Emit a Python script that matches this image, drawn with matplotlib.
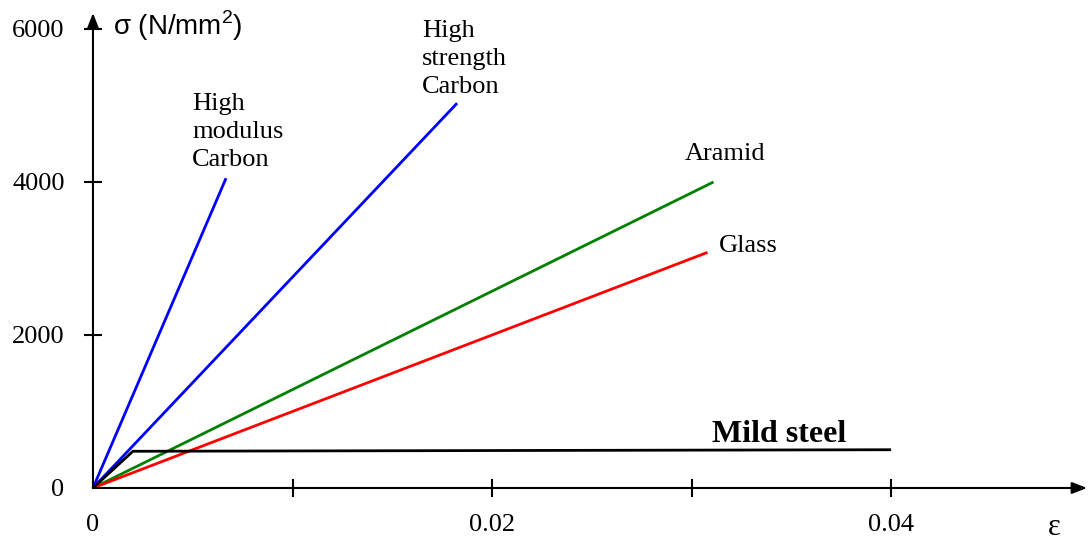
import matplotlib
matplotlib.use("Agg")
import matplotlib.pyplot as plt

plt.rcParams["font.family"] = ["Liberation Serif", "DejaVu Serif"]
plt.rcParams["mathtext.fontset"] = "custom"
plt.rcParams["mathtext.rm"] = "Liberation Sans"

# stress-strain lines: (strain, stress N/mm2)
hm_carbon_eps = [0.0, 0.00667]
hm_carbon_sig = [0, 4050]
hs_carbon_eps = [0.0, 0.01825]
hs_carbon_sig = [0, 5030]
aramid_eps = [0.0, 0.0311]
aramid_sig = [0, 4000]
glass_eps = [0.0, 0.0308]
glass_sig = [0, 3080]
steel_eps = [0.0, 0.0020, 0.0400]
steel_sig = [0, 480, 500]

x_ticks = [0, 0.01, 0.02, 0.03, 0.04]
x_labels = ["0", "", "0.02", "", "0.04"]
y_ticks = [0, 2000, 4000, 6000]
y_labels = ["0", "2000", "4000", "6000"]

fig = plt.figure(figsize=(10.88, 5.41), dpi=100)
ax = fig.add_axes([0, 0, 1, 1])
ax.set_xlim(-0.00466, 0.04987)
ax.set_ylim(-693, 6379)

for side in ("top", "right"):
    ax.spines[side].set_visible(False)
for side in ("left", "bottom"):
    ax.spines[side].set_position(("data", 0))
    ax.spines[side].set_color("none")

# axes with arrow heads
arrow = dict(arrowstyle="-|>,head_length=0.9,head_width=0.35", lw=1.5,
             color="black", shrinkA=0, shrinkB=0)
ax.annotate("", xy=(0.04982, 0), xytext=(0, 0), arrowprops=arrow)
ax.annotate("", xy=(0, 6209), xytext=(0, 0), arrowprops=arrow)

ax.set_xticks(x_ticks, x_labels)
ax.set_yticks(y_ticks, y_labels)
ax.tick_params(direction="inout", length=13, width=1.5, labelsize=19,
               colors="black")
ax.tick_params(axis="x", pad=12)
ax.tick_params(axis="y", pad=14)
ax.xaxis.get_major_ticks()[0].tick1line.set_visible(False)
ax.yaxis.get_major_ticks()[0].tick1line.set_visible(False)

ax.plot(hm_carbon_eps, hm_carbon_sig, color="#0000ff", lw=2, solid_capstyle="butt")
ax.plot(hs_carbon_eps, hs_carbon_sig, color="#0000ff", lw=2, solid_capstyle="butt")
ax.plot(aramid_eps, aramid_sig, color="#008000", lw=2, solid_capstyle="butt")
ax.plot(glass_eps, glass_sig, color="#ff0000", lw=2, solid_capstyle="butt")
ax.plot(steel_eps, steel_sig, color="black", lw=2, solid_capstyle="butt")

# multi-line labels are anchored on the baseline of their last line
txt = dict(fontsize=19, va="baseline", ha="left", linespacing=1.36)
ax.text(0.00496, 4209, "High\nmodulus\nCarbon", **txt)
ax.text(0.01649, 5163, "High\nstrength\nCarbon", **txt)
ax.text(0.02967, 4288, "Aramid", **txt)
ax.text(0.03138, 3085, "Glass", **txt)
ax.text(0.03103, 601, "Mild steel", fontsize=23, fontweight="bold",
        va="baseline", ha="left")
ax.text(0.04787, -614, "ε", fontsize=22, va="baseline", ha="left")
ax.text(0.001, 5922, r"σ (N/mm$^2$)", fontsize=20, va="baseline", ha="left",
        family="Liberation Sans")

fig.savefig("out.png", dpi=100)
